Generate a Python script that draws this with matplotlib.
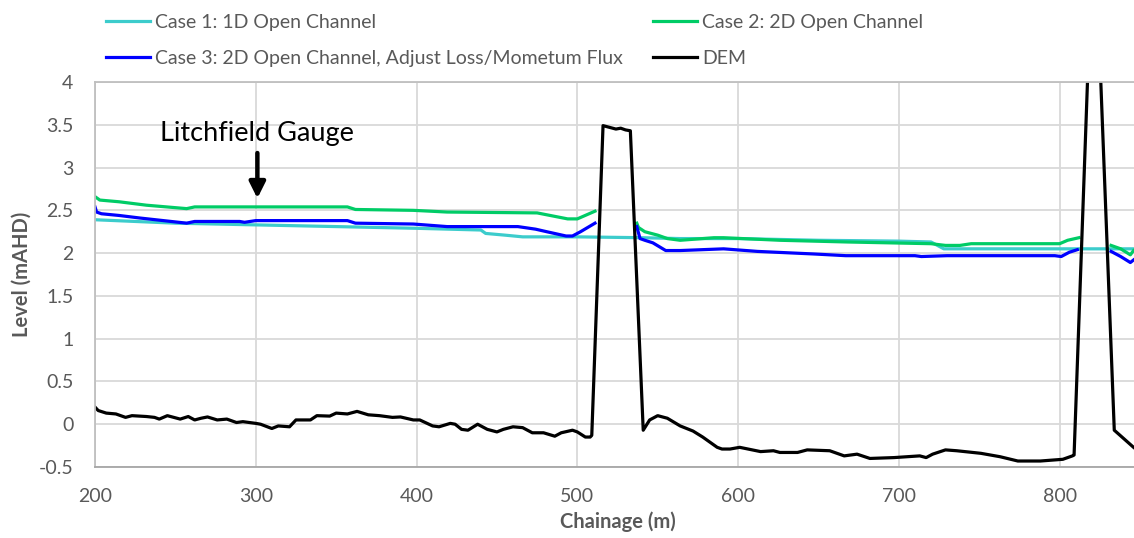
import numpy as np
import matplotlib
matplotlib.use("Agg")
import matplotlib.pyplot as plt

nan = np.nan

# ---- data ----
x_case1 = [200, 250, 300, 350, 400, 440, 443, 455, 466, 500, 540, 564, 600, 650, 700, 720, 728, 760, 800, 846]
y_case1 = [2.39, 2.35, 2.33, 2.31, 2.29, 2.27, 2.23, 2.21, 2.19, 2.19, 2.18, 2.17, 2.17, 2.15, 2.14, 2.13, 2.05, 2.05, 2.05, 2.05]

x_case2 = [200, 203, 215, 232, 257, 262, 300, 357, 362, 398, 419, 475, 494, 500, 511, nan,
           537, 538, 542, 550, 556, 564, 585, 591, 626, 668, 720, 729, 738, 745, 800, 805, 812, nan,
           832, 838, 844, 846]
y_case2 = [2.66, 2.62, 2.60, 2.56, 2.52, 2.54, 2.54, 2.54, 2.51, 2.50, 2.48, 2.47, 2.40, 2.40, 2.49, nan,
           2.35, 2.30, 2.25, 2.21, 2.17, 2.15, 2.18, 2.18, 2.15, 2.13, 2.11, 2.09, 2.09, 2.11, 2.11, 2.15, 2.18, nan,
           2.09, 2.05, 1.98, 2.03]

x_case3 = [200, 201, 204, 215, 228, 257, 262, 290, 293, 300, 357, 362, 398, 419, 440, 463, 474, 481, 493, 497, 502, 511, nan,
           537, 539, 542, 547, 555, 564, 591, 612, 647, 667, 710, 714, 730, 797, 801, 806, 811, nan,
           832, 838, 844, 846]
y_case3 = [2.54, 2.48, 2.46, 2.44, 2.41, 2.35, 2.37, 2.37, 2.36, 2.38, 2.38, 2.35, 2.34, 2.31, 2.31, 2.31, 2.28, 2.25, 2.20, 2.20, 2.25, 2.35, nan,
           2.31, 2.17, 2.15, 2.12, 2.03, 2.03, 2.05, 2.02, 1.99, 1.97, 1.97, 1.96, 1.97, 1.97, 1.96, 2.01, 2.04, nan,
           2.02, 1.96, 1.89, 1.92]

x_dem = [200, 202, 207, 213, 219, 223, 232, 237, 240, 245, 253, 258, 262, 266, 270, 276, 282, 288, 292, 300,
         303, 310, 314, 321, 325, 334, 338, 346, 350, 357, 363, 370, 377, 385, 390, 398, 402, 410, 414, 421,
         424, 428, 432, 438, 444, 450, 454, 460, 466, 472, 479, 486, 490, 497, 500, 505, 508, 509, 516, 520,
         524, 527, 530, 533, 541, 545, 550, 556, 564, 572, 578, 587, 590, 595, 601, 614, 622, 626, 637, 643,
         657, 666, 674, 682, 697, 705, 713, 717, 721, 729, 736, 751, 763, 774, 788, 795, 802, 808, 809, 818,
         825, 834, 846]
y_dem = [0.20, 0.16, 0.13, 0.12, 0.08, 0.10, 0.09, 0.08, 0.06, 0.10, 0.06, 0.09, 0.05, 0.07, 0.085, 0.05, 0.06, 0.02, 0.03, 0.01,
         0.0, -0.05, -0.02, -0.03, 0.05, 0.05, 0.10, 0.095, 0.13, 0.12, 0.15, 0.11, 0.10, 0.08, 0.085, 0.05, 0.05, -0.02, -0.03, 0.01,
         0.0, -0.06, -0.07, 0.0, -0.06, -0.09, -0.06, -0.03, -0.04, -0.10, -0.10, -0.14, -0.10, -0.07, -0.09, -0.15, -0.15, -0.13, 3.49, 3.47,
         3.45, 3.46, 3.44, 3.43, -0.07, 0.05, 0.10, 0.07, -0.02, -0.08, -0.15, -0.27, -0.29, -0.29, -0.27, -0.32, -0.31, -0.33, -0.33, -0.30,
         -0.31, -0.37, -0.35, -0.40, -0.39, -0.38, -0.37, -0.39, -0.35, -0.30, -0.31, -0.34, -0.38, -0.43, -0.43, -0.42, -0.41, -0.37, -0.36, 4.35,
         4.30, -0.07, -0.27]

series_labels = ["Case 1: 1D Open Channel", "Case 2: 2D Open Channel",
                 "Case 3: 2D Open Channel, Adjust Loss/Mometum Flux", "DEM"]
x_ticks = [200, 300, 400, 500, 600, 700, 800]
y_ticks = [-0.5, 0, 0.5, 1, 1.5, 2, 2.5, 3, 3.5, 4]
y_ticklabels = ["-0.5", "0", "0.5", "1", "1.5", "2", "2.5", "3", "3.5", "4"]
gauge_label = "Litchfield Gauge"
gauge_x = 301

# ---- style ----
plt.rcParams['font.family'] = ['Lato', 'DejaVu Sans']
W, H = 1134, 538
fig = plt.figure(figsize=(W / 100, H / 100), dpi=100)
ax_left, ax_right, ax_top, ax_bot = 95, 1140, 82, 467
ax = fig.add_axes([ax_left / W, 1 - ax_bot / H, (ax_right - ax_left) / W, (ax_bot - ax_top) / H])

grid_c = '#D9D9D9'
lw = 2.3
l1, = ax.plot(x_case1, y_case1, color='#3CCCCC', lw=lw, label=series_labels[0], solid_joinstyle='round')
l2, = ax.plot(x_case2, y_case2, color='#00CC66', lw=lw, label=series_labels[1], solid_joinstyle='round')
l3, = ax.plot(x_case3, y_case3, color='#0000FF', lw=lw, label=series_labels[2], solid_joinstyle='round')
l4, = ax.plot(x_dem, y_dem, color='#000000', lw=lw, label=series_labels[3], solid_joinstyle='round')

ax.set_xlim(200, 850)
ax.set_ylim(-0.5, 4)
ax.set_xticks(x_ticks)
ax.set_yticks(y_ticks)
ax.set_yticklabels(y_ticklabels)
ax.grid(True, color=grid_c, lw=1.3)
ax.set_axisbelow(True)
ax.tick_params(length=0, labelsize=14, colors='#595959')
ax.tick_params(axis='y', pad=15.5)
ax.tick_params(axis='x', pad=15)
for s in ['left', 'bottom', 'top']:
    ax.spines[s].set_color('#BFBFBF')
    ax.spines[s].set_linewidth(1.3)
ax.spines['bottom'].set_color('#A6A6A6')
ax.spines['right'].set_visible(False)

ax.set_xlabel("Chainage (m)", fontsize=14.5, fontweight='bold', color='#595959', labelpad=5)
ax.set_ylabel("Level (mAHD)", fontsize=14.5, fontweight='bold', color='#595959', labelpad=5)

ax.annotate("", xy=(gauge_x, 2.64), xytext=(gauge_x, 3.17),
            arrowprops=dict(arrowstyle='-|>', color='black', lw=3.2, mutation_scale=24,
                            shrinkA=0, shrinkB=0))
ax.text(240.5, 3.40, gauge_label, fontsize=19.5, color='black', ha='left', va='center')

fs = 14
leg = fig.legend([l1, l3, l2, l4], [series_labels[0], series_labels[2], series_labels[1], series_labels[3]],
                 loc='upper left', bbox_to_anchor=(98 / W, 1 - 6 / H), ncol=2, frameon=False,
                 fontsize=fs, handlelength=2.27, handletextpad=0.26, columnspacing=1.55,
                 labelspacing=1.0, borderaxespad=0)
for t in leg.get_texts():
    t.set_color('#595959')

fig.savefig("out.png", dpi=100)
